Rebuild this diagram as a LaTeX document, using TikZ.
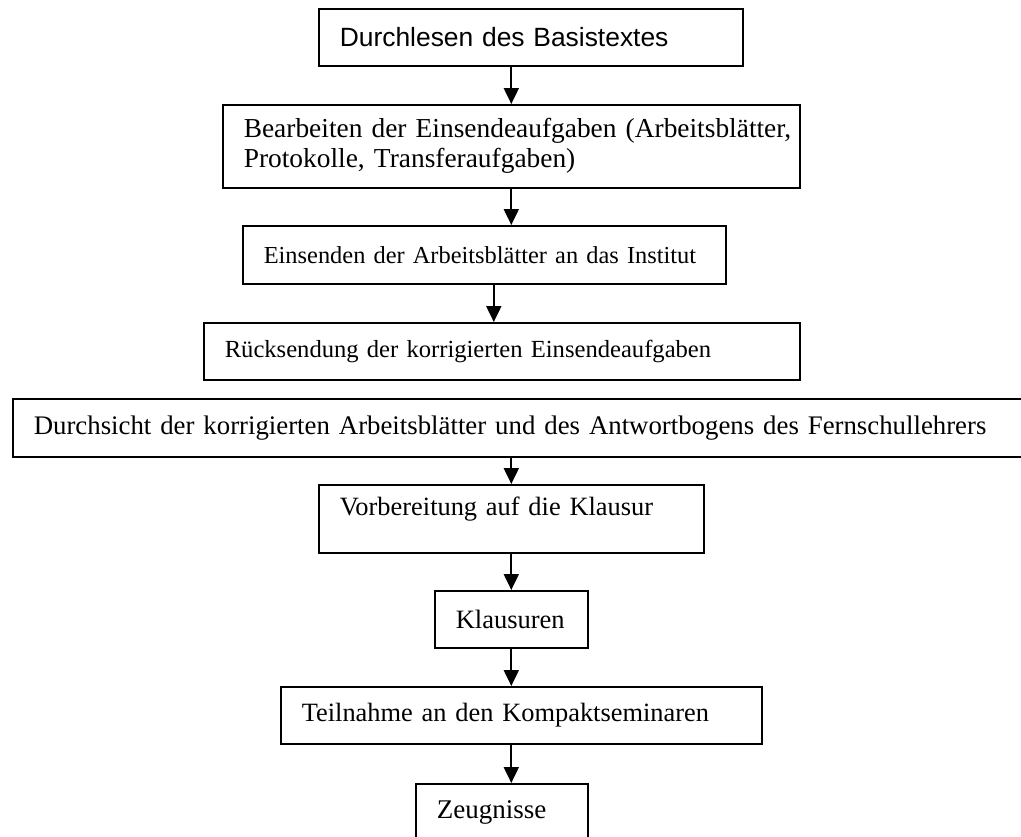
\documentclass[tikz,border=0pt]{standalone}
\usepackage{fontspec}
\setmainfont{Liberation Serif}
\newfontfamily\arialfont{Liberation Sans}
\usepackage{tikz}
\usetikzlibrary{arrows.meta}
\newcommand{\fsize}[1]{\fontsize{#1}{15}\selectfont}
\tikzstyle{block} = [rectangle, anchor=north west, draw=black, line width=0.8pt, inner xsep=10.5pt, inner ysep=0pt, align=left, font=\fsize{13.2}]
\tikzstyle{arrow} = [line width=1pt,-{Triangle[length=8pt,width=7.5pt]}]

\begin{document}
\begin{tikzpicture}[x=0.5pt, y=-0.5pt]
        \useasboundingbox (0,0) rectangle (1021,836);
        \clip (0,0) rectangle (1021,836);
        \node (lesen) [block, text width=191pt, minimum height=28.5pt, font=\arialfont\fsize{13.2}] at (318,8) {Durchlesen des Basistextes};
        \node (bearbeiten) [block, text width=267.5pt, minimum height=41.5pt, font=\fsize{13.7}] at (222,104) {\mbox{Bearbeiten der Einsendeaufgaben (Arbeitsblätter,}\\ Protokolle, Transferaufgaben)};
        \node (einsenden) [block, text width=220.5pt, minimum height=29pt, font=\fsize{12.2}] at (242,225) {Einsenden der Arbeitsblätter an das Institut};
        \node (ruecksendung) [block, text width=277pt, minimum height=28.5pt, font=\fsize{12.3}] at (203,322) {Rücksendung der korrigierten Einsendeaufgaben};
        \node (durchsicht) [block, text width=493pt, minimum height=29pt, font=\fsize{13.4}] at (12,398) {Durchsicht der korrigierten Arbeitsblätter und des Antwortbogens des Fernschullehrers};
        \node (vorbereitung) [block, text width=171.5pt, minimum height=34pt] at (318,484) {Vorbereitung auf die Klausur\\[-2pt]\mbox{}};
        \node (klausuren) [block, text width=55.5pt, minimum height=28.5pt, font=\fsize{13.25}] at (434,590) {Klausuren};
        \node (teilnahme) [block, text width=219.5pt, minimum height=28.5pt] at (280,686) {Teilnahme an den Kompaktseminaren};
        \node (zeugnisse) [block, text width=65pt, minimum height=29pt, font=\fsize{13.5}] at (415,783) {Zeugnisse};
        \draw [arrow] (lesen.south -| bearbeiten.north) -- (bearbeiten.north);
        \draw [arrow] (bearbeiten.south) -- (bearbeiten.south |- einsenden.north);
        \draw [arrow] ([xshift=4.75pt]einsenden.south) -- ([xshift=4.75pt]einsenden.south |- ruecksendung.north);
        \draw [arrow] (durchsicht.south -| vorbereitung.north) -- (vorbereitung.north);
        \draw [arrow] (vorbereitung.south) -- (klausuren.north);
        \draw [arrow] (klausuren.south) -- (klausuren.south |- teilnahme.north);
        \draw [arrow] (teilnahme.south -| klausuren.south) -- (klausuren.south |- zeugnisse.north);
    \end{tikzpicture}
\end{document}
